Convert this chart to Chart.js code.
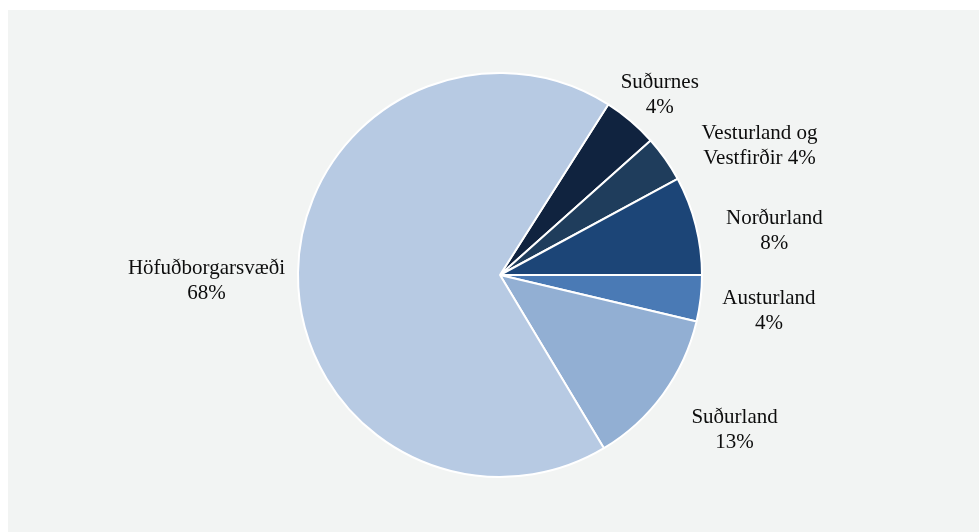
<!DOCTYPE html>
<html>
<head>
<meta charset="utf-8">
<script src="https://cdn.jsdelivr.net/npm/chart.js@4"></script>
<style>
    body { margin: 0; background: #ffffff; }
    #wrap { position: absolute; left: 8px; top: 10px; width: 971px; height: 522px; background: #f2f4f3; }
</style>
</head>
<body>
<div id="wrap"><canvas id="regionChart" width="971" height="522"></canvas></div>
<script>
const regions = ['Suðurnes', 'Vesturland og Vestfirðir', 'Norðurland', 'Austurland', 'Suðurland', 'Höfuðborgarsvæði'];
const shares = [4.4, 3.7, 7.9, 3.7, 12.7, 67.6];
const sliceColors = ['#10233f', '#1f3d5c', '#1c4577', '#4a7ab5', '#92afd3', '#b7cae3'];

// small hand nudges so the labels sit where the original put them
const labelNudge = [[-4, 2], [37, 8], [20, 15], [10, 8], [27, 14], [-1, 9]];

const splitLabel = (name, pct) => {
    const words = name.split(' ');
    if (words.length === 1) return [name, pct];
    return [words.slice(0, -1).join(' '), words[words.length - 1] + ' ' + pct];
};

const outsideLabels = {
    id: 'outsideLabels',
    afterDraw(chart) {
        const ctx = chart.ctx;
        const meta = chart.getDatasetMeta(0);
        const total = shares.reduce((a, b) => a + b, 0);
        const lineH = 25;
        ctx.save();
        ctx.font = '21px "Liberation Serif"';
        ctx.fillStyle = '#0d0d0d';
        ctx.textAlign = 'center';
        ctx.textBaseline = 'middle';
        meta.data.forEach((arc, i) => {
            const p = arc.getProps(['x', 'y', 'startAngle', 'endAngle', 'outerRadius']);
            const mid = (p.startAngle + p.endAngle) / 2;
            const pct = Math.round(shares[i] / total * 100) + '%';
            const lines = splitLabel(regions[i], pct);
            const w = Math.max(...lines.map(l => ctx.measureText(l).width));
            const h = lines.length * lineH;
            const ux = Math.cos(mid), uy = Math.sin(mid);
            const ax = p.x + ux * (p.outerRadius + 12);
            const ay = p.y + uy * (p.outerRadius + 12);
            const cx = ax + ux * w / 2 + labelNudge[i][0];
            const cy = ay + uy * h / 2 + labelNudge[i][1];
            lines.forEach((l, k) => {
                ctx.fillText(l, cx, cy - h / 2 + lineH * (k + 0.5));
            });
        });
        ctx.restore();
    }
};

new Chart(document.getElementById('regionChart').getContext('2d'), {
    type: 'pie',
    data: {
        labels: regions,
        datasets: [{
            data: shares,
            backgroundColor: sliceColors,
            borderColor: '#ffffff',
            borderWidth: 2
        }]
    },
    options: {
        responsive: false,
        animation: false,
        rotation: 32.4,
        layout: { padding: { top: 62, bottom: 54, left: 13, right: 0 } },
        plugins: {
            legend: { display: false },
            tooltip: { enabled: false }
        }
    },
    plugins: [outsideLabels]
});
</script>
</body>
</html>
